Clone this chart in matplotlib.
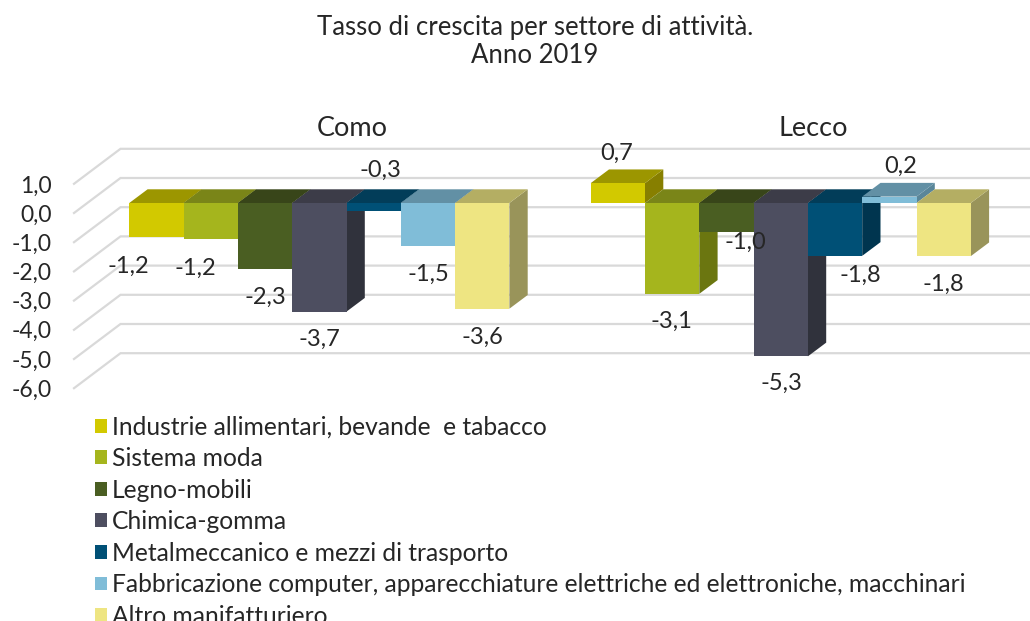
import matplotlib
matplotlib.use('Agg')
import matplotlib.pyplot as plt
from matplotlib.patches import Patch, Polygon

plt.rcParams['font.family'] = ['Lato', 'DejaVu Sans']

# data
sectors = ['Industrie allimentari, bevande  e tabacco', 'Sistema moda', 'Legno-mobili',
           'Chimica-gomma', 'Metalmeccanico e mezzi di trasporto',
           'Fabbricazione computer, apparecchiature elettriche ed elettroniche, macchinari',
           'Altro manifatturiero']
como = [-1.16, -1.22, -2.26, -3.72, -0.28, -1.46, -3.62]
lecco = [0.68, -3.11, -0.98, -5.251, -1.81, 0.22, -1.82]
ticks = [1, 0, -1, -2, -3, -4, -5, -6]

front_col = ['#D2C900', '#A5B51D', '#4A5E22', '#4D4E60', '#005076', '#80BDD8', '#EEE582']
top_col = ['#9C9600', '#7A8518', '#384519', '#3C3C48', '#023D59', '#6290A5', '#B4AE63']
side_col = ['#877F00', '#6B7610', '#2E3A14', '#30323C', '#00354F', '#5A8699', '#99945A']

# label centres in pixels (x, y from top)
como_lab = [(128, 266), (195, 268), (265, 297), (319, 339), (380, 170), (428, 274), (482, 337)]
lecco_lab = [(617, 153), (671, 321), (745, 242), (781, 383), (860, 275), (901, 166), (943, 284)]

W, H = 1030, 621
unit = 29.2     # pixels per 1.0 on the value scale
zero_px = 203   # y pixel of value 0 at the bars' front
bar_w = 54.3
dx, dy = 18.3, 13.7 / unit
txt = '#262626'

fig = plt.figure(figsize=(W / 100, H / 100), dpi=100)
ax = fig.add_axes([0, 0, 1, 1])
ax.set_xlim(0, W)
ax.set_ylim((zero_px - H) / unit, zero_px / unit)
ax.axis('off')


def py(p):
    return (zero_px - p) / unit


# gridlines: side wall then back wall
for t in ticks:
    back = t + 25 / unit
    front = t - 10 / unit
    ax.plot([74, 120.5, W], [front, back, back], color='#D9D9D9', lw=1.6, zorder=1,
            solid_joinstyle='miter')


def bars(values, x0, labels):
    for i, v in enumerate(values):
        x = x0 + i * bar_w
        hi, lo = max(v, 0), min(v, 0)
        ax.add_patch(Polygon([(x + bar_w, lo), (x + bar_w + dx, lo + dy), (x + bar_w + dx, hi + dy),
                              (x + bar_w, hi)], fc=side_col[i], ec='none', zorder=2 + i))
        ax.add_patch(Polygon([(x, hi), (x + dx, hi + dy), (x + bar_w + dx, hi + dy), (x + bar_w, hi)],
                             fc=top_col[i], ec='none', zorder=2 + i))
        ax.bar(x, hi - lo, width=bar_w, bottom=lo, align='edge', color=front_col[i], zorder=2 + i)
        lx, ly = labels[i]
        ax.text(lx, py(ly), f'{v:.1f}'.replace('.', ','), ha='center', va='center',
                fontsize=17, color=txt, zorder=20)


bars(como, 129.3, como_lab)
bars(lecco, 590.7, lecco_lab)

ax.text(352, py(129), 'Como', ha='center', va='center', fontsize=19.5, color=txt)
ax.text(813, py(129), 'Lecco', ha='center', va='center', fontsize=19.5, color=txt)
ax.text(535, py(41.5), 'Tasso di crescita per settore di attività.\nAnno 2019', ha='center',
        va='center', fontsize=18.5, color=txt, linespacing=1.13)

# value axis at the front end of the side wall
ay = fig.add_axes([74 / W, 1 - 388 / H, 0.001, 204 / H])
ay.patch.set_alpha(0)
ay.set_ylim(-6, 1)
ay.set_xticks([])
ay.set_yticks(ticks)
ay.set_yticklabels([f'{t:.1f}'.replace('.', ',') for t in ticks], fontsize=16.5, color=txt)
ay.tick_params(axis='y', length=0, pad=15.8)
for s in ay.spines.values():
    s.set_visible(False)

handles = [Patch(fc=c, ec='none') for c in front_col]
fs = 17.7
fs_px = fs * 100 / 72
leg = ax.legend(handles, sectors, loc='upper left', bbox_to_anchor=(95 / W, 1 - 415.6 / H),
                bbox_transform=fig.transFigure, frameon=False, fontsize=fs, borderpad=0,
                borderaxespad=0, handlelength=12 / fs_px, handleheight=12 / fs_px,
                handletextpad=5 / fs_px, labelspacing=(31.3 - 0.927 * fs_px) / fs_px, labelcolor=txt)

fig.savefig('out.png', dpi=100)
